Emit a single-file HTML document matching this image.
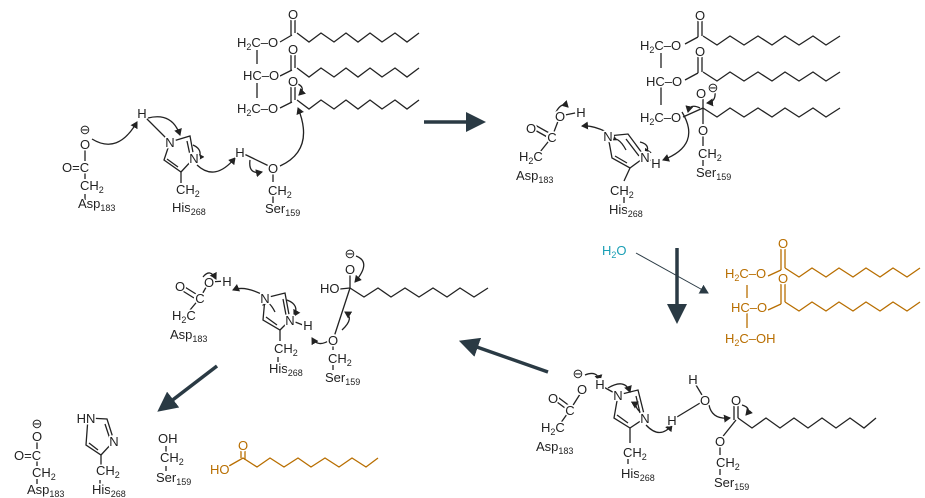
<!DOCTYPE html>
<html><head><meta charset="utf-8"><style>
html,body{margin:0;padding:0;background:#fff;width:925px;height:498px;overflow:hidden}
svg text{font-family:"Liberation Sans",sans-serif;font-size:13px;fill:#222;paint-order:stroke;stroke:#fff;stroke-width:3px;stroke-linejoin:round}
svg tspan{paint-order:stroke;stroke:#fff;stroke-width:3px}
.s{font-size:9px}
.or{fill:#b86e00}
.c{text-anchor:middle}
</style></head><body>
<svg width="925" height="498" viewBox="0 0 925 498" xmlns="http://www.w3.org/2000/svg">
<defs>
<marker id="h" markerWidth="8" markerHeight="8" refX="6" refY="4" orient="auto" markerUnits="userSpaceOnUse"><path d="M0,0 L7,4 L0,8 Z" fill="#222"/></marker>
<marker id="b" markerWidth="22" markerHeight="20" refX="4" refY="10" orient="auto" markerUnits="userSpaceOnUse"><path d="M0,0 L20,10 L0,20 Z" fill="#2a3a44"/></marker>
<marker id="t" markerWidth="10" markerHeight="10" refX="8" refY="5" orient="auto" markerUnits="userSpaceOnUse"><path d="M0,0 L9,5 L0,10 Z" fill="#2a3a44"/></marker>
</defs>
<g fill="none" stroke="#222" stroke-width="1.3">
<polyline points="297,33 309,42 321,33 334,42 346,33 358,42 370,33 382,42 395,33 407,42 419,33"/>
<polyline points="297,68 309,77 321,68 334,77 346,68 358,77 370,68 382,77 395,68 407,77 419,68"/>
<polyline points="297,100 309,109 321,100 334,109 346,100 358,109 370,100 382,109 395,100 407,109 419,100"/>
<line x1="291" y1="18" x2="291" y2="35"/><line x1="295" y1="18" x2="295" y2="33"/>
<line x1="291" y1="53" x2="291" y2="70"/><line x1="295" y1="53" x2="295" y2="68"/>
<line x1="291" y1="85" x2="291" y2="102"/><line x1="295" y1="85" x2="295" y2="100"/>
<line x1="280" y1="42" x2="292" y2="35"/><line x1="280" y1="76" x2="292" y2="70"/><line x1="280" y1="108" x2="292" y2="102"/>
<line x1="257" y1="50" x2="257" y2="64"/><line x1="257" y1="83" x2="257" y2="98"/>
<polygon points="170,142 190,136 194,158 181,172 164,160"/>
<line x1="187" y1="141" x2="190" y2="155"/><line x1="178" y1="167" x2="167" y2="159"/>
<line x1="181" y1="172" x2="181" y2="183"/>
<line x1="142" y1="114" x2="170" y2="142"/>
<line x1="85" y1="143" x2="85" y2="186"/><line x1="85" y1="194" x2="85" y2="200"/>
<line x1="273" y1="168" x2="273" y2="182"/><line x1="273" y1="196" x2="273" y2="203"/>
<line x1="240" y1="152" x2="273" y2="168"/>
<path d="M92,139 Q118,155 137,122" marker-end="url(#h)"/>
<path d="M148,118 Q172,112 180,135" marker-end="url(#h)"/>
<path d="M193,145 Q204,150 198,160" marker-end="url(#h)"/>
<path d="M197,165 Q215,182 235,158" marker-end="url(#h)"/>
<path d="M250,160 Q248,175 262,172" marker-end="url(#h)"/>
<path d="M280,166 Q315,150 298,108" marker-end="url(#h)"/>
<path d="M298,84 Q306,88 299,95" marker-end="url(#h)"/>

<polyline points="703,36 717,45 730,36 744,45 758,36 772,45 785,36 799,45 813,36 826,45 840,36"/>
<polyline points="703,72 717,81 730,72 744,81 758,72 772,81 785,72 799,81 813,72 826,81 840,72"/>
<polyline points="703,108 717,117 730,108 744,117 758,108 772,117 785,108 799,117 813,108 826,117 840,108"/>
<line x1="698" y1="18" x2="698" y2="37"/><line x1="702" y1="18" x2="702" y2="36"/>
<line x1="698" y1="54" x2="698" y2="73"/><line x1="702" y1="54" x2="702" y2="72"/>
<line x1="685" y1="44" x2="698" y2="37"/><line x1="685" y1="80" x2="698" y2="73"/>
<line x1="703" y1="90" x2="703" y2="146"/><line x1="703" y1="160" x2="703" y2="166"/>
<line x1="683" y1="117" x2="703" y2="108"/>
<line x1="661" y1="53" x2="661" y2="68"/><line x1="661" y1="87" x2="661" y2="105"/>
<polygon points="608,136 628,134 645,157 630,168 612,158"/>
<line x1="626" y1="139" x2="639" y2="156"/><line x1="627" y1="163" x2="615" y2="156"/>
<line x1="630" y1="168" x2="624" y2="181"/><line x1="624" y1="197" x2="624" y2="203"/>
<line x1="645" y1="157" x2="655" y2="163"/>
<line x1="533" y1="129" x2="549" y2="138"/><line x1="535" y1="125" x2="551" y2="134"/>
<line x1="552" y1="137" x2="560" y2="116"/><line x1="552" y1="137" x2="540" y2="152"/>
<line x1="560" y1="116" x2="580" y2="112"/>
<path d="M612,135 Q595,125 582,126" marker-end="url(#h)"/>
<path d="M626,150 Q618,135 610,140" marker-end="url(#h)"/>
<path d="M640,142 Q652,145 645,155" marker-end="url(#h)"/>
<path d="M682,112 Q702,145 663,160" marker-end="url(#h)"/>
<path d="M715,92 Q716,102 707,103" marker-end="url(#h)"/>
<path d="M700,108 Q690,103 688,112" marker-end="url(#h)"/>
<path d="M556,112 Q562,101 568,107" marker-end="url(#h)"/>

<g stroke="#b86e00">
<polyline points="785,268 799,277 812,268 826,277 839,268 853,277 866,268 880,277 893,268 907,277 920,268"/>
<polyline points="785,302 799,311 812,302 826,311 839,302 853,311 866,302 880,311 893,302 907,311 920,302"/>
<line x1="781" y1="248" x2="781" y2="270"/><line x1="785" y1="248" x2="785" y2="268"/>
<line x1="781" y1="283" x2="781" y2="304"/><line x1="785" y1="283" x2="785" y2="302"/>
<line x1="768" y1="276" x2="781" y2="270"/><line x1="768" y1="310" x2="781" y2="304"/>
<line x1="747" y1="285" x2="747" y2="298"/><line x1="747" y1="313" x2="747" y2="328"/>
</g>

<polyline points="738,418 752,428 766,418 780,428 794,418 808,428 822,418 836,428 850,418 864,428 876,418"/>
<line x1="734" y1="402" x2="734" y2="420"/><line x1="738" y1="402" x2="738" y2="418"/>
<line x1="736" y1="420" x2="720" y2="440"/><line x1="720" y1="440" x2="720" y2="455"/><line x1="720" y1="469" x2="720" y2="475"/>
<polygon points="618,395 638,390 645,418 630,428 614,418"/>
<line x1="636" y1="396" x2="640" y2="413"/><line x1="628" y1="423" x2="617" y2="415"/>
<line x1="630" y1="428" x2="630" y2="443"/><line x1="628" y1="459" x2="628" y2="464"/>
<line x1="672" y1="420" x2="705" y2="400"/><line x1="693" y1="380" x2="705" y2="400"/>
<line x1="600" y1="385" x2="618" y2="395"/>
<line x1="553" y1="399" x2="569" y2="411"/><line x1="555" y1="395" x2="571" y2="407"/>
<line x1="570" y1="410" x2="582" y2="391"/><line x1="570" y1="410" x2="560" y2="424"/>
<path d="M585,375 Q597,370 600,381" marker-end="url(#h)"/>
<path d="M608,388 Q625,378 630,392" marker-end="url(#h)"/>
<path d="M640,412 Q633,405 638,402" marker-end="url(#h)"/>
<path d="M646,425 Q660,440 672,425" marker-end="url(#h)"/>
<path d="M709,405 Q712,420 730,418" marker-end="url(#h)"/>
<path d="M742,405 Q752,408 746,415" marker-end="url(#h)"/>

<polyline points="350,288 364,297 378,288 391,297 405,288 419,297 433,288 447,297 460,288 474,297 488,288"/>
<line x1="350" y1="270" x2="350" y2="288"/><line x1="340" y1="289" x2="350" y2="288"/>
<line x1="350" y1="288" x2="333" y2="340"/><line x1="333" y1="340" x2="333" y2="350"/><line x1="333" y1="365" x2="333" y2="370"/>
<polygon points="265,298 285,293 290,320 280,330 263,320"/>
<line x1="283" y1="299" x2="286" y2="315"/><line x1="277" y1="325" x2="266" y2="317"/>
<line x1="280" y1="330" x2="280" y2="341"/><line x1="278" y1="357" x2="278" y2="362"/>
<line x1="290" y1="320" x2="308" y2="327"/>
<line x1="180" y1="284" x2="196" y2="294"/><line x1="178" y1="288" x2="194" y2="298"/>
<line x1="200" y1="298" x2="209" y2="282"/><line x1="200" y1="298" x2="190" y2="310"/>
<line x1="209" y1="282" x2="226" y2="281"/>
<path d="M265,296 Q245,285 233,290" marker-end="url(#h)"/>
<path d="M275,312 Q268,298 263,305" marker-end="url(#h)"/>
<path d="M287,300 Q300,305 294,316" marker-end="url(#h)"/>
<path d="M330,340 Q318,348 312,338" marker-end="url(#h)"/>
<path d="M342,330 Q355,318 345,312" marker-end="url(#h)"/>
<path d="M356,256 Q372,262 355,282" marker-end="url(#h)"/>
<path d="M203,277 Q210,268 216,279" marker-end="url(#h)"/>

<line x1="37" y1="438" x2="37" y2="466"/><line x1="37" y1="479" x2="37" y2="484"/>
<polygon points="88,418 107,419 114,441 101,455 86,445"/>
<line x1="105" y1="424" x2="110" y2="439"/><line x1="98" y1="450" x2="89" y2="443"/>
<line x1="101" y1="455" x2="101" y2="465"/><line x1="100" y1="480" x2="100" y2="485"/>
<line x1="166" y1="446" x2="166" y2="452"/><line x1="166" y1="466" x2="166" y2="471"/>
<g stroke="#b86e00">
<polyline points="229,466 243,458 257,467 270,458 284,467 298,458 311,467 325,458 339,467 352,458 366,467 378,458"/>
<line x1="241" y1="446" x2="241" y2="458"/><line x1="245" y1="446" x2="245" y2="460"/>
</g>
</g>

<g fill="#fff">
<circle cx="293" cy="14" r="6"/><circle cx="293" cy="49" r="6"/><circle cx="293" cy="81" r="6"/>
<circle cx="85" cy="144" r="6"/><circle cx="85" cy="167" r="6"/><circle cx="85" cy="185" r="6"/>
<circle cx="142" cy="113" r="6"/><circle cx="170" cy="142" r="6"/><circle cx="194" cy="158" r="6"/>
<circle cx="240" cy="152" r="6"/><circle cx="273" cy="168" r="6"/><circle cx="273" cy="190" r="6"/>
<circle cx="700" cy="15" r="6"/><circle cx="700" cy="51" r="6"/><circle cx="701" cy="93" r="6"/>
<circle cx="703" cy="130" r="6"/><circle cx="703" cy="153" r="6"/>
<circle cx="531" cy="128" r="6"/><circle cx="552" cy="137" r="6"/><circle cx="560" cy="116" r="6"/><circle cx="581" cy="112" r="6"/>
<circle cx="608" cy="136" r="6"/><circle cx="645" cy="157" r="6"/><circle cx="656" cy="163" r="6"/>
<circle cx="783" cy="243" r="6"/><circle cx="783" cy="278" r="6"/>
<circle cx="582" cy="389" r="6"/><circle cx="553" cy="398" r="6"/><circle cx="570" cy="410" r="6"/>
<circle cx="600" cy="384" r="6"/><circle cx="618" cy="395" r="6"/><circle cx="645" cy="418" r="6"/>
<circle cx="672" cy="420" r="6"/><circle cx="705" cy="400" r="6"/><circle cx="693" cy="379" r="6"/>
<circle cx="736" cy="400" r="6"/><circle cx="720" cy="441" r="6"/><circle cx="721" cy="462" r="6"/>
<circle cx="350" cy="269" r="6"/><circle cx="333" cy="340" r="6"/><circle cx="308" cy="325" r="6"/>
<circle cx="265" cy="298" r="6"/><circle cx="290" cy="320" r="6"/>
<circle cx="180" cy="286" r="6"/><circle cx="200" cy="298" r="6"/><circle cx="209" cy="282" r="6"/><circle cx="227" cy="281" r="6"/>
<circle cx="37" cy="436" r="6"/><circle cx="37" cy="455" r="6"/><circle cx="37" cy="472" r="6"/>
<circle cx="114" cy="441" r="6"/><circle cx="243" cy="445" r="6"/>
</g>

<g stroke="#2a3a44" stroke-width="3.5" fill="none">
<line x1="424" y1="122" x2="470" y2="122" marker-end="url(#b)"/>
<line x1="677" y1="248" x2="677" y2="308" marker-end="url(#b)"/>
<line x1="548" y1="372" x2="474" y2="346" marker-end="url(#b)"/>
<line x1="217" y1="366" x2="170" y2="402" marker-end="url(#b)"/>
</g>
<line x1="636" y1="253" x2="708" y2="293" stroke="#2a3a44" stroke-width="1" marker-end="url(#t)"/>

<text x="237" y="47">H<tspan class="s" dy="3">2</tspan><tspan dy="-3">C–O</tspan></text>
<text x="293" y="19" class="c">O</text>
<text x="243" y="80">HC–O</text>
<text x="293" y="54" class="c">O</text>
<text x="237" y="113">H<tspan class="s" dy="3">2</tspan><tspan dy="-3">C–O</tspan></text>
<text x="293" y="86" class="c">O</text>
<text x="85" y="134" class="c" font-size="12">⊖</text>
<text x="85" y="149" class="c">O</text>
<text x="62" y="172">O=C</text>
<text x="80" y="190">CH<tspan class="s" dy="3">2</tspan></text>
<text x="78" y="208">Asp<tspan class="s" dy="3">183</tspan></text>
<text x="142" y="118" class="c">H</text>
<text x="170" y="147" class="c">N</text>
<text x="194" y="163" class="c">N</text>
<text x="176" y="194">CH<tspan class="s" dy="3">2</tspan></text>
<text x="172" y="212">His<tspan class="s" dy="3">268</tspan></text>
<text x="240" y="157" class="c">H</text>
<text x="273" y="173" class="c">O</text>
<text x="268" y="195">CH<tspan class="s" dy="3">2</tspan></text>
<text x="265" y="213">Ser<tspan class="s" dy="3">159</tspan></text>

<text x="640" y="50">H<tspan class="s" dy="3">2</tspan><tspan dy="-3">C–O</tspan></text>
<text x="700" y="20" class="c">O</text>
<text x="646" y="86">HC–O</text>
<text x="700" y="56" class="c">O</text>
<text x="640" y="122">H<tspan class="s" dy="3">2</tspan><tspan dy="-3">C–O</tspan></text>
<text x="701" y="98" class="c">O</text><text x="713" y="92" class="c" font-size="12">⊖</text>
<text x="703" y="135" class="c">O</text>
<text x="698" y="158">CH<tspan class="s" dy="3">2</tspan></text>
<text x="696" y="177">Ser<tspan class="s" dy="3">159</tspan></text>
<text x="531" y="133" class="c">O</text>
<text x="552" y="142" class="c">C</text>
<text x="560" y="121" class="c">O</text>
<text x="581" y="117" class="c">H</text>
<text x="519" y="161">H<tspan class="s" dy="3">2</tspan><tspan dy="-3">C</tspan></text>
<text x="516" y="180">Asp<tspan class="s" dy="3">183</tspan></text>
<text x="608" y="141" class="c">N</text>
<text x="645" y="162" class="c">N</text>
<text x="656" y="168" class="c">H</text>
<text x="610" y="195">CH<tspan class="s" dy="3">2</tspan></text>
<text x="609" y="214">His<tspan class="s" dy="3">268</tspan></text>

<text x="602" y="255" style="fill:#1a9fb5">H<tspan class="s" dy="3" style="fill:#1a9fb5">2</tspan><tspan dy="-3" style="fill:#1a9fb5">O</tspan></text>
<text x="725" y="278" class="or">H<tspan class="s or" dy="3">2</tspan><tspan dy="-3" class="or">C–O</tspan></text>
<text x="783" y="248" class="or c">O</text>
<text x="731" y="312" class="or">HC–O</text>
<text x="783" y="283" class="or c">O</text>
<text x="725" y="343" class="or">H<tspan class="s or" dy="3">2</tspan><tspan dy="-3" class="or">C–OH</tspan></text>

<text x="578" y="378" class="c" font-size="12">⊖</text>
<text x="582" y="394" class="c">O</text>
<text x="553" y="403" class="c">O</text>
<text x="570" y="415" class="c">C</text>
<text x="541" y="432">H<tspan class="s" dy="3">2</tspan><tspan dy="-3">C</tspan></text>
<text x="536" y="451">Asp<tspan class="s" dy="3">183</tspan></text>
<text x="600" y="389" class="c">H</text>
<text x="618" y="400" class="c">N</text>
<text x="645" y="423" class="c">N</text>
<text x="672" y="425" class="c">H</text>
<text x="705" y="405" class="c">O</text>
<text x="693" y="384" class="c">H</text>
<text x="736" y="405" class="c">O</text>
<text x="720" y="446" class="c">O</text>
<text x="716" y="467">CH<tspan class="s" dy="3">2</tspan></text>
<text x="714" y="487">Ser<tspan class="s" dy="3">159</tspan></text>
<text x="623" y="457">CH<tspan class="s" dy="3">2</tspan></text>
<text x="621" y="478">His<tspan class="s" dy="3">268</tspan></text>

<text x="350" y="258" class="c" font-size="12">⊖</text>
<text x="350" y="274" class="c">O</text>
<text x="320" y="293">HO</text>
<text x="333" y="345" class="c">O</text>
<text x="328" y="363">CH<tspan class="s" dy="3">2</tspan></text>
<text x="325" y="382">Ser<tspan class="s" dy="3">159</tspan></text>
<text x="308" y="330" class="c">H</text>
<text x="265" y="303" class="c">N</text>
<text x="290" y="325" class="c">N</text>
<text x="274" y="353">CH<tspan class="s" dy="3">2</tspan></text>
<text x="269" y="373">His<tspan class="s" dy="3">268</tspan></text>
<text x="180" y="291" class="c">O</text>
<text x="200" y="303" class="c">C</text>
<text x="209" y="287" class="c">O</text>
<text x="227" y="286" class="c">H</text>
<text x="172" y="320">H<tspan class="s" dy="3">2</tspan><tspan dy="-3">C</tspan></text>
<text x="170" y="339">Asp<tspan class="s" dy="3">183</tspan></text>

<text x="37" y="428" class="c" font-size="12">⊖</text>
<text x="37" y="441" class="c">O</text>
<text x="14" y="460">O=C</text>
<text x="32" y="477">CH<tspan class="s" dy="3">2</tspan></text>
<text x="27" y="494">Asp<tspan class="s" dy="3">183</tspan></text>
<text x="86" y="423" class="c">HN</text>
<text x="114" y="446" class="c">N</text>
<text x="96" y="475">CH<tspan class="s" dy="3">2</tspan></text>
<text x="92" y="494">His<tspan class="s" dy="3">268</tspan></text>
<text x="158" y="443">OH</text>
<text x="160" y="462">CH<tspan class="s" dy="3">2</tspan></text>
<text x="156" y="482">Ser<tspan class="s" dy="3">159</tspan></text>
<text x="210" y="474" class="or">HO</text>
<text x="243" y="450" class="or c">O</text>
</svg>
</body></html>
